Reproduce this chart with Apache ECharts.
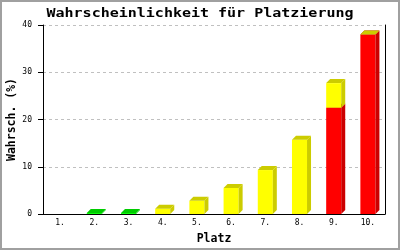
<!DOCTYPE html>
<html><head><meta charset="utf-8">
<script src="https://cdn.jsdelivr.net/npm/echarts@6/dist/echarts.min.js"></script>
<style>html,body{margin:0;padding:0;background:#fff}#c{width:400px;height:250px}</style>
</head><body><div id="c"></div><script>
const titleText = 'Wahrscheinlichkeit für Platzierung';
const xAxisName = 'Platz';
const yAxisName = 'Wahrsch. (%)';
const categories = ['1.','2.','3.','4.','5.','6.','7.','8.','9.','10.'];
const redValues    = [null,null,null,null,null,null,null,null,22.5,38];
const yellowValues = [null,null,null,1.1,2.8,5.5,9.3,15.7,5.2,0];
const greenValues  = [null,0.2,0.2,null,null,null,null,null,null,null];
const yMin = 0, yMax = 40, yStep = 10;

const FONT = 'DejaVu Sans Mono';
const stacks = [redValues, yellowValues, greenValues];
function buildData(k) {
  const out = [];
  for (let i = 0; i < categories.length; i++) {
    const v = stacks[k][i];
    if (v === null) continue;
    let base = 0;
    for (let j = 0; j < k; j++) base += (stacks[j][i] || 0);
    out.push([i, base, base + v]);
  }
  return out;
}
function makeRender(front, dark) {
  return function (params, api) {
    const i = api.value(0), b = api.value(1), t = api.value(2);
    const pb = api.coord([i, b]), pt = api.coord([i, t]);
    const w = api.size([1, 0])[0] * 0.44;
    const d = 4;
    const x0 = pb[0] - w / 2, x1 = pb[0] + w / 2, yb = pb[1], yt = pt[1];
    return { type: 'group', children: [
      { type: 'rect', shape: { x: x0, y: yt, width: w, height: Math.max(yb - yt, 0) }, style: { fill: front } },
      { type: 'polygon', shape: { points: [[x1, yb], [x1 + d, yb - d], [x1 + d, yt - d], [x1, yt]] }, style: { fill: dark } },
      { type: 'polygon', shape: { points: [[x0, yt], [x0 + d, yt - d], [x1 + d, yt - d], [x1, yt]] }, style: { fill: dark } }
    ]};
  };
}
const chart = echarts.init(document.getElementById('c'), null, { renderer: 'canvas' });
chart.setOption({
  animation: false,
  backgroundColor: '#fff',
  grid: { left: 43, right: 15, top: 25, bottom: 36, containLabel: false, outerBoundsMode: 'none' },
  graphic: [
    { type: 'rect', shape: { x: 1, y: 1, width: 398, height: 248 }, style: { fill: 'none', stroke: '#a0a0a0', lineWidth: 2 }, silent: true },
    { type: 'text', x: 200, y: 14, scaleX: 1.25, style: { text: titleText, font: 'bold 12px "' + FONT + '"', fill: '#000', textAlign: 'center', textVerticalAlign: 'middle' } }
  ],
  xAxis: {
    type: 'category', data: categories, boundaryGap: true,
    name: xAxisName, nameLocation: 'middle', nameGap: 19, nameMoveOverlap: false,
    nameTextStyle: { fontFamily: FONT, fontWeight: 'bold', fontSize: 11.5, color: '#000' },
    axisLine: { lineStyle: { color: '#000', width: 1 } },
    axisTick: { show: false },
    axisLabel: { fontFamily: FONT, fontSize: 8, color: '#000', margin: 5 },
    splitLine: { show: false }
  },
  yAxis: [{
    type: 'value', min: yMin, max: yMax, interval: yStep,
    name: yAxisName, nameLocation: 'middle', nameGap: 25, nameMoveOverlap: false,
    nameTextStyle: { fontFamily: FONT, fontWeight: 'bold', fontSize: 11.5, color: '#000' },
    axisLine: { show: true, lineStyle: { color: '#000', width: 1 } },
    axisTick: { show: true, length: 5, lineStyle: { color: '#000' } },
    axisLabel: { fontFamily: FONT, fontSize: 8, color: '#000', margin: 11 },
    splitLine: { show: true, lineStyle: { color: '#c0c0c0', type: [3, 3] } }
  }, {
    type: 'value', min: yMin, max: yMax, interval: yStep, position: 'right',
    axisLine: { show: true, lineStyle: { color: '#000', width: 1 } },
    axisTick: { show: false }, axisLabel: { show: false }, splitLine: { show: false }
  }],
  series: [
    { type: 'custom', name: 'rot', renderItem: makeRender('#ff0000', '#cc0000'), data: buildData(0), encode: { x: 0, y: [1, 2] } },
    { type: 'custom', name: 'gelb', renderItem: makeRender('#ffff00', '#cccc00'), data: buildData(1), encode: { x: 0, y: [1, 2] } },
    { type: 'custom', name: 'grün', renderItem: makeRender('#00ff00', '#00cc00'), data: buildData(2), encode: { x: 0, y: [1, 2] } }
  ]
});
</script></body></html>
